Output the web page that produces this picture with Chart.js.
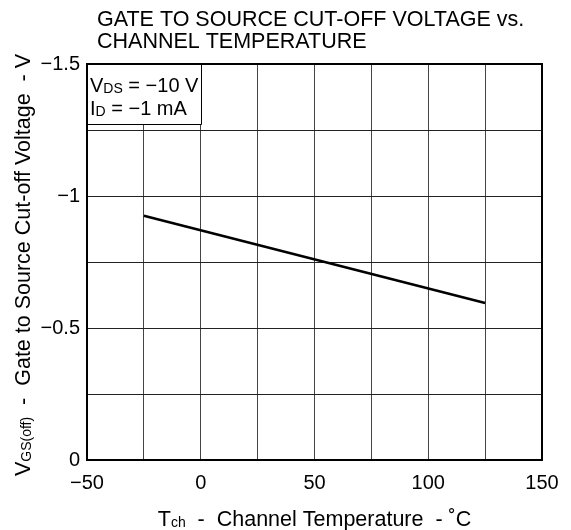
<!DOCTYPE html>
<html>
<head>
<meta charset="utf-8">
<script src="https://cdn.jsdelivr.net/npm/chart.js@4.4.1/dist/chart.umd.min.js"></script>
<style>
  html, body { margin: 0; padding: 0; background: #fff; }
</style>
</head>
<body>
<canvas id="chart" width="571" height="530"></canvas>
<script>
// data
const tempC = [-25, 125];
const vgsOff = [-0.925, -0.595];

// labelled ticks (grid every 25 °C / 0.25 V)
const xTickLabels = [-50, 0, 50, 100, 150];
const yTickLabels = [0, -0.5, -1, -1.5];

const titleLines = ["GATE TO SOURCE CUT-OFF VOLTAGE vs.", "CHANNEL TEMPERATURE"];
const FONT = '"Liberation Sans", Arial, sans-serif';

const fmt = (v) => (v < 0 ? "\u2212" + String(-v) : String(v));

// draw text made of pieces, [text, size, dy], centred on x
function richText(ctx, parts, x, y, align) {
  let w = 0;
  parts.forEach((p) => {
    ctx.font = p[1] + "px " + FONT;
    w += ctx.measureText(p[0]).width;
  });
  let cx = align === "left" ? x : x - w / 2;
  parts.forEach((p) => {
    ctx.font = p[1] + "px " + FONT;
    ctx.fillText(p[0], cx, y + p[2]);
    cx += ctx.measureText(p[0]).width;
  });
}

const overlay = {
  id: "overlay",
  afterDatasetsDraw(chart) {
    const { ctx, chartArea: a, scales } = chart;
    ctx.save();
    // condition box in the top-left cell
    const bx = Math.round(scales.x.getPixelForValue(0)) + 0.5;
    const by = Math.round(a.top + 60) + 0.5;
    ctx.fillStyle = "#fff";
    ctx.fillRect(a.left, a.top, bx - a.left, by - a.top);
    ctx.strokeStyle = "#000";
    ctx.lineWidth = 1;
    ctx.beginPath();
    ctx.moveTo(a.left, by);
    ctx.lineTo(bx, by);
    ctx.moveTo(bx, a.top);
    ctx.lineTo(bx, by);
    ctx.stroke();

    // frame
    ctx.lineWidth = 2;
    ctx.strokeRect(a.left, a.top, a.right - a.left, a.bottom - a.top);

    ctx.fillStyle = "#000";
    ctx.textAlign = "left";
    ctx.textBaseline = "alphabetic";
    richText(ctx, [["V", 20, 0], ["DS", 14, 1], [" = \u221210 V", 20, 0]], a.left + 3, a.top + 28, "left");
    richText(ctx, [["I", 20, 0], ["D", 14, 1], [" = \u22121 mA", 20, 0]], a.left + 3, a.top + 51, "left");

    // chart title
    ctx.font = "21.5px " + FONT;
    ctx.fillText(titleLines[0], 97, 26);
    ctx.fillText(titleLines[1], 97, 48);

    // x axis title
    richText(ctx, [["T", 21.5, 0], ["ch", 14, 1], ["  -  Channel Temperature  - \u02DAC", 21.5, 0]],
      (a.left + a.right) / 2, 526);

    // y axis title
    ctx.translate(30, (a.top + a.bottom) / 2 + 3);
    ctx.rotate(-Math.PI / 2);
    richText(ctx, [["V", 21.5, 0], ["GS(off)", 14, 1], ["  -  Gate to Source Cut-off Voltage  - V", 21.5, 0]], 0, 0);
    ctx.restore();
  },
};

new Chart(document.getElementById("chart"), {
  type: "line",
  data: {
    datasets: [
      {
        data: tempC.map((t, i) => ({ x: t, y: vgsOff[i] })),
        borderColor: "#000",
        borderWidth: 2.5,
        pointRadius: 0,
        fill: false,
        tension: 0,
      },
    ],
  },
  options: {
    responsive: false,
    animation: false,
    devicePixelRatio: 1,
    layout: { padding: { top: 64, right: 29, left: 0, bottom: 0 } },
    plugins: {
      legend: { display: false },
      tooltip: { enabled: false },
      title: { display: false },
    },
    scales: {
      x: {
        type: "linear",
        min: -50,
        max: 150,
        afterFit: (s) => { s.height = 70; },
        ticks: {
          stepSize: 25,
          autoSkip: false,
          maxRotation: 0,
          padding: 11,
          color: "#000",
          font: { family: FONT, size: 20 },
          callback: (v) => (xTickLabels.includes(v) ? fmt(v) : ""),
        },
        grid: { color: "#444", lineWidth: 1, drawTicks: false },
        border: { color: "#000", width: 2 },
      },
      y: {
        type: "linear",
        min: -1.5,
        max: 0,
        reverse: true,
        afterFit: (s) => { s.width = 87; },
        ticks: {
          stepSize: 0.25,
          autoSkip: false,
          padding: 7,
          color: "#000",
          font: { family: FONT, size: 20 },
          callback: (v) => (yTickLabels.includes(v) ? fmt(v) : ""),
        },
        grid: { color: "#222", lineWidth: 1, drawTicks: false },
        border: { color: "#000", width: 2 },
      },
    },
  },
  plugins: [overlay],
});
</script>
</body>
</html>
